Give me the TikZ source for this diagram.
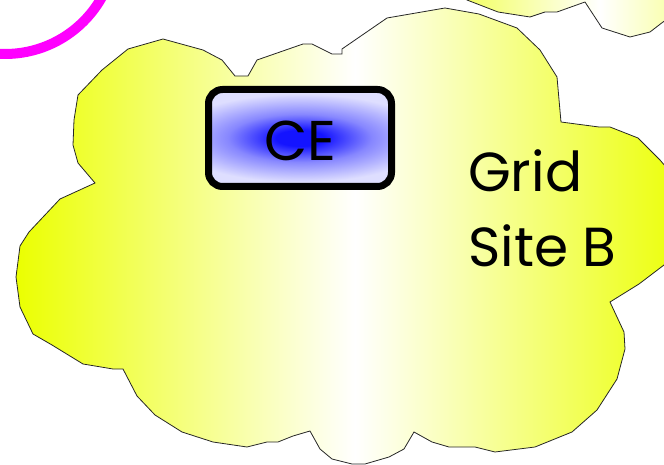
\documentclass[tikz,border=0pt]{standalone}
\usepackage{fontspec}
\setmainfont{Poppins}
\definecolor{cloudY}{RGB}{235,255,0}
\definecolor{boxBlue}{RGB}{20,20,255}
\definecolor{boxMid}{RGB}{135,135,255}
\definecolor{boxPale}{RGB}{222,222,255}
\definecolor{ringMag}{RGB}{255,0,255}
\pgfdeclareradialshading{ceshade}{\pgfpoint{0bp}{0bp}}{%
  color(0bp)=(boxBlue); color(4bp)=(boxBlue); color(12bp)=(boxMid);
  color(22bp)=(boxPale); color(50bp)=(boxPale)}
\begin{document}
\begin{tikzpicture}[x=1pt,y=-1pt,
  cloudline/.style={draw=black!85,line width=0.8pt,line join=miter},
  cloudfill/.style={left color=cloudY,right color=cloudY,middle color=white},
  labeltext/.style={font=\fontsize{55}{60}\selectfont,inner sep=0pt,anchor=base west},
  cebox/.style={draw=black,line width=7pt,rounded corners=14pt,minimum width=183pt,minimum height=97pt,inner sep=0pt}]
\useasboundingbox (0,0) rectangle (664,465);
% magenta ring
\draw[ringMag,line width=10pt] (5,-57) circle (111pt);
% top-right cloud
\shade[cloudline,cloudfill]
  (380,-60) -- (467,0) -- (498,12) -- (530,17) -- (545,12) -- (557,12) -- (585,2)
  -- (602,28) -- (630,37) -- (650,32) -- (663,22) -- (700,0) -- (820,-60) -- cycle;
% main cloud
\shade[cloudline,cloudfill]
  (29,232) -- (20,246) -- (16,277) -- (20,307) -- (33,334) -- (52,345) -- (83,364)
  -- (113,369) -- (123,369) -- (137,396) -- (155,415) -- (182,432) -- (213,442)
  -- (247,447) -- (267,442) -- (278,442) -- (293,436) -- (310,431) -- (320,449)
  -- (332,459) -- (352,464) -- (365,464) -- (389,457) -- (404,449) -- (414,432)
  -- (432,442) -- (449,447) -- (475,447) -- (495,452) -- (535,447) -- (572,432)
  -- (597,410) -- (617,379) -- (625,349) -- (624,332) -- (610,302) -- (639,284)
  -- (664,265) -- (684,240) -- (694,215) -- (684,188) -- (660,160) -- (638,138)
  -- (610,127) -- (599,127) -- (561,122) -- (557,77) -- (540,50) -- (517,28)
  -- (479,14) -- (445,8) -- (387,18) -- (342,49) -- (342,54) -- (332,54)
  -- (312,44) -- (303,44) -- (257,60) -- (248,76) -- (235,76) -- (222,60)
  -- (203,50) -- (163,39) -- (128,49) -- (102,70) -- (78,95) -- (74,120)
  -- (73,145) -- (78,163) -- (95,183) -- (60,199) -- cycle;
% CE box: elongated radial fill clipped to the box
\begin{scope}
  \clip[rounded corners=14pt] (208.5,89.5) rectangle (391.5,186.5);
  \shade[shading=ceshade] (150,88) rectangle (450,188);
\end{scope}
\node[cebox] (ce) at (300,138) {};
\node[font=\fontsize{56}{60}\selectfont,inner sep=0pt,anchor=base] (cetext) at (300,161) {CE};
% labels
\node[labeltext] (grid) at (468,192) {Grid};
\node[labeltext] (site) at (468,266) {Site B};
\end{tikzpicture}
\end{document}
